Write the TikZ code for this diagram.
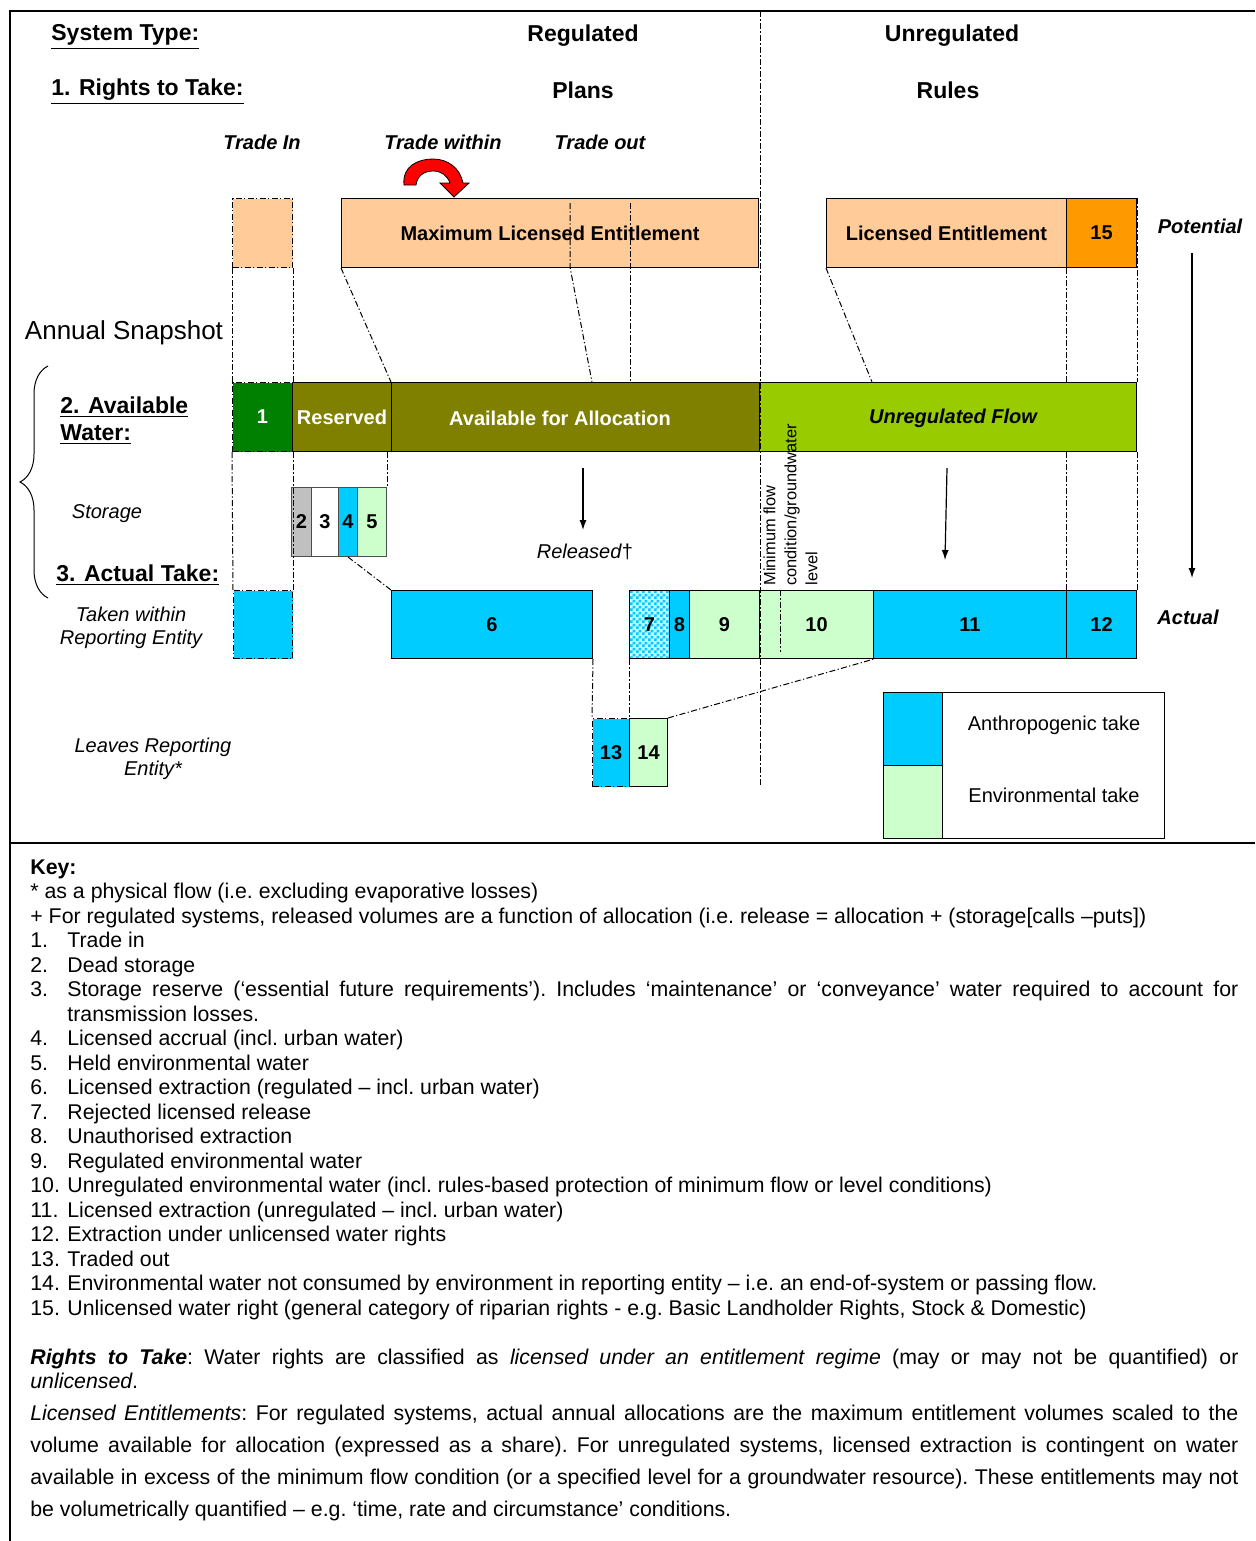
\documentclass[tikz,border=0pt]{standalone}
\usepackage{fontspec}
\setmainfont{Liberation Sans}
\usetikzlibrary{patterns,decorations.pathreplacing,arrows.meta}

\definecolor{peach}{HTML}{FFCC99}
\definecolor{amber}{HTML}{FF9900}
\definecolor{darkgrn}{HTML}{008000}
\definecolor{olivebar}{HTML}{808000}
\definecolor{lime}{HTML}{99CC00}
\definecolor{cyanc}{HTML}{00CCFF}
\definecolor{palegrn}{HTML}{CCFFCC}
\definecolor{storgray}{HTML}{C0C0C0}

\pgfdeclarepatternformonly{finecheck}{\pgfqpoint{0pt}{0pt}}{\pgfqpoint{3pt}{3pt}}{\pgfqpoint{3pt}{3pt}}{%
  \pgfpathrectangle{\pgfqpoint{0pt}{0pt}}{\pgfqpoint{1.5pt}{1.5pt}}%
  \pgfpathrectangle{\pgfqpoint{1.5pt}{1.5pt}}{\pgfqpoint{1.5pt}{1.5pt}}%
  \pgfusepath{fill}}

\newcommand{\keyitem}[2]{\par\noindent\hangindent=18.5pt\hangafter=1\makebox[18.5pt][l]{#1.}#2}

\begin{document}
\begin{tikzpicture}[x=0.5pt, y=-0.5pt, >={Latex[length=5pt,width=3.5pt]},
  bar/.style={draw, line width=0.5pt, anchor=north west, inner sep=0pt, minimum height=34.5pt, font=\bfseries},
  row/.style={bar, minimum height=34pt},
  dd/.style={line width=0.5pt, dash pattern=on 3pt off 1.2pt on 0.6pt off 1.2pt},
  hdr/.style={inner sep=0pt, font=\fontsize{11.5}{13.5}\selectfont\bfseries},
  tag/.style={font=\bfseries\itshape},
  side/.style={font=\fontsize{10}{11.5}\selectfont\itshape, align=center}]
\useasboundingbox (0,0) rectangle (1255,1541);
% frame
\draw[line width=1pt] (1255,11) -- (10,11) -- (10,1541);
\draw[line width=1.2pt] (10,843) -- (1255,843);

% headings
\node[hdr, anchor=west] (systype) at (51,37) {\underline{System Type:}};
\node[hdr, anchor=west] (rights) at (51,92) {\underline{1. Rights to Take:}};
\node[hdr] (reg) at (583,36) {Regulated};
\node[hdr] (unreg) at (952,36) {Unregulated};
\node[hdr] (plans) at (583,90) {Plans};
\node[hdr] (rules) at (948,90) {Rules};
\node[tag] (tradein) at (262,142) {Trade In};
\node[tag] (tradewithin) at (443,142) {Trade within};
\node[tag] (tradeout) at (600,142) {Trade out};
\node[tag] (potential) at (1200,226) {Potential};
\node[tag] (actual) at (1188,617) {Actual};

% trade within arrow
\filldraw[fill=red, draw=black, line width=0.4pt] (404,185) .. controls (402,166) and (418,159) .. (433,159)
  .. controls (448,159) and (460,168) .. (463,183) -- (469,183) -- (454,197) -- (440,183) -- (450,183)
  .. controls (447,175) and (441,171) .. (433,171) .. controls (424,171) and (417,176) .. (416,185) -- cycle;

% rights to take
\node[bar, dd, fill=peach, minimum width=30pt] (tin) at (232,198) {};
\node[bar, fill=peach, minimum width=208.5pt] (mle) at (341,198) {Maximum Licensed Entitlement};
\node[bar, fill=peach, minimum width=120pt] (le) at (826,198) {Licensed Entitlement};
\node[bar, fill=amber, minimum width=35pt] (b15) at (1066,198) {15};

% available water
\node[bar, dd, fill=darkgrn, text=white, minimum width=30pt] (b1) at (232,382) {1};
\node[bar, fill=olivebar, text=white, minimum width=49.5pt] (res) at (292,382) {Reserved};
\node[bar, fill=olivebar, minimum width=184pt] (afa) at (391,382) {};
\node[text=white, font=\bfseries] (afatxt) at (560,418) {Available for Allocation};
\node[bar, fill=lime, minimum width=188.5pt] (uf) at (759,382) {};
\node[font=\bfseries\itshape] (uftxt) at (953,418) {Unregulated Flow};

% storage
\node[bar, draw=black!70, fill=storgray, minimum width=10pt] (b2) at (291,487) {2};
\node[bar, draw=black!70, fill=white, minimum width=13.5pt] (b3) at (311,487) {3};
\node[bar, draw=black!70, fill=cyanc, minimum width=9.5pt] (b4) at (338,487) {4};
\node[bar, draw=black!70, fill=palegrn, minimum width=14.5pt] (b5) at (357,487) {5};

% actual take
\node[row, dd, fill=cyanc, minimum width=29.5pt] (tw) at (233,590) {};
\node[row, fill=cyanc, minimum width=100.5pt] (b6) at (391,590) {6};
\node[row, preaction={fill=cyanc!20}, pattern=finecheck, pattern color=cyanc, minimum width=20pt] (b7) at (629,590) {7};
\node[row, fill=cyanc, minimum width=10pt] (b8) at (669,590) {8};
\node[row, fill=palegrn, minimum width=35pt] (b9) at (689,590) {9};
\node[row, fill=palegrn, minimum width=57pt] (b10) at (759,590) {10};
\node[row, fill=cyanc, minimum width=96.5pt] (b11) at (873,590) {11};
\node[row, fill=cyanc, minimum width=35pt] (b12) at (1066,590) {12};
\node[row, dd, fill=cyanc, minimum width=18.5pt] (b13) at (592,718) {13};
\node[row, fill=palegrn, minimum width=19pt] (b14) at (629,718) {14};

\node[rotate=90, anchor=north west, align=left, inner sep=0pt, font=\fontsize{8.2}{10.5}\selectfont] (minflow) at (763,586) {Minimum flow\\condition/groundwater\\level};
\node[side] (released) at (585,552) {Released\textup{†}};

% legend
\node[bar, minimum width=140.5pt, minimum height=73pt] (leg) at (883,692) {};
\node[bar, fill=cyanc, minimum width=29.5pt, minimum height=36.5pt] (legA) at (883,692) {};
\node[bar, fill=palegrn, minimum width=29.5pt, minimum height=36.5pt] (legE) at (883,765) {};
\node (legAtxt) at (1054,725) {Anthropogenic take};
\node (legEtxt) at (1054,795) {Environmental take};

% left labels
\node[font=\fontsize{13}{15}\selectfont] (snap) at (124,333) {Annual Snapshot};
\node[hdr, anchor=west, align=left] (avail) at (60,421) {\underline{2. Available}\\\underline{Water:}};
\node[side] (storage) at (107,514) {Storage};
\node[hdr, anchor=west] (actake) at (56,575) {\underline{3. Actual Take:}};
\node[side] (within) at (131,628) {Taken within\\Reporting Entity};
\node[side] (leaves) at (153,759) {Leaves Reporting\\Entity*};
\coordinate (br1) at (48,598);
\coordinate (br2) at (48,366);
\draw[decorate, decoration={brace, amplitude=14pt}, line width=0.5pt] (br1) -- (br2);

% dash-dot guides
\coordinate (divtop) at (760,11);
\coordinate (divbot) at (760,785);
\coordinate (mleA) at (570,203);
\coordinate (mleAb) at (570,267);
\coordinate (afaA) at (592,382);
\coordinate (mleB) at (630,203);
\coordinate (afaB) at (630,382);
\coordinate (ufA) at (872,382);
\coordinate (mf1) at (780,590);
\coordinate (mf2) at (780,652);
\path[draw,dd] (divtop) -- (divbot);
\path[draw,dd] (mleA) -- (mleAb) -- (afaA);
\path[draw,dd] (mleB) -- (afaB);
\path[draw,dd] (mle.south west) -- (afa.north west);
\path[draw,dd] (le.south west) -- (ufA);
\path[draw,dd] (b15.south west) -- (b15.south west |- uf.north);
\path[draw,dd] (b15.south west |- uf.south) -- (b12.north west);
\path[draw,dd] (b15.north east) -- (uf.north east);
\path[draw,dd] (uf.south east) -- (b12.north east);
\path[draw,dd] (tin.south west) -- (b1.north west);
\path[draw,dd] (tin.south east) -- (b1.north east);
\path[draw,dd] (b1.south west) -- (tw.north west);
\path[draw,dd] (b1.south east) -- (tw.north east);
\path[draw,dd] (b5.north east |- res.south) -- (b5.north east);
\path[draw,dd] (b4.south) -- (b6.north west);
\path[draw,dd] (b6.south east) -- (b13.north west);
\path[draw,dd] (b7.south west) -- (b14.north west);
\path[draw,dd] (b14.north east) -- (b10.south east);
\path[draw,dd] (mf1) -- (mf2);

% flow arrows
\coordinate (rel1) at (583,468);
\coordinate (rel2) at (583,530);
\coordinate (unr1) at (947,468);
\coordinate (unr2) at (945,560);
\coordinate (pot1) at (1192,253);
\coordinate (pot2) at (1192,578);
\path[draw,->,line width=0.6pt] (rel1) -- (rel2);
\path[draw,->,line width=0.6pt] (unr1) -- (unr2);
\path[draw,->,line width=0.6pt] (pot1) -- (pot2);

% key
\node[anchor=north west, inner sep=0pt, text width=604pt, align=justify, font=\fontsize{10.65}{12.25}\selectfont\frenchspacing] (key) at (30,859) {%
\setlength{\parindent}{0pt}\hyphenpenalty=10000\relax
\textbf{Key:}\par
* as a physical flow (i.e. excluding evaporative losses)\par
+ For regulated systems, released volumes are a function of allocation (i.e. release = allocation + (storage[calls –puts])
\keyitem{1}{Trade in}
\keyitem{2}{Dead storage}
\keyitem{3}{Storage reserve (‘essential future requirements’). Includes ‘maintenance’ or ‘conveyance’ water required to account for\linebreak transmission losses.}
\keyitem{4}{Licensed accrual (incl. urban water)}
\keyitem{5}{Held environmental water}
\keyitem{6}{Licensed extraction (regulated – incl. urban water)}
\keyitem{7}{Rejected licensed release}
\keyitem{8}{Unauthorised extraction}
\keyitem{9}{Regulated environmental water}
\keyitem{10}{Unregulated environmental water (incl. rules-based protection of minimum flow or level conditions)}
\keyitem{11}{Licensed extraction (unregulated – incl. urban water)}
\keyitem{12}{Extraction under unlicensed water rights}
\keyitem{13}{Traded out}
\keyitem{14}{Environmental water not consumed by environment in reporting entity – i.e. an end-of-system or passing flow.}
\keyitem{15}{Unlicensed water right (general category of riparian rights - e.g. Basic Landholder Rights, Stock \& Domestic)}\par
\vspace{12.25pt}
\noindent\textbf{\textit{Rights to Take}}: Water rights are classified as \textit{licensed under an entitlement regime} (may or may not be quantified) or\linebreak \textit{unlicensed}.\par
{\baselineskip=16pt \noindent\textit{Licensed Entitlements}: For regulated systems, actual annual allocations are the maximum entitlement volumes scaled to the\linebreak volume available for allocation (expressed as a share). For unregulated systems, licensed extraction is contingent on water\linebreak available in excess of the minimum flow condition (or a specified level for a groundwater resource). These entitlements may not\linebreak be volumetrically quantified – e.g. ‘time, rate and circumstance’ conditions.\par}};
\end{tikzpicture}
\end{document}
